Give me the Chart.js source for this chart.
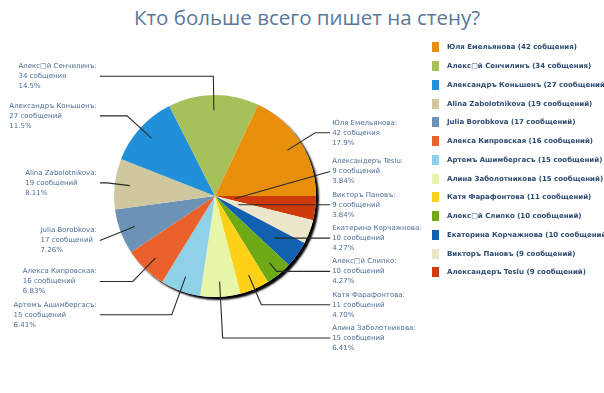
<!DOCTYPE html>
<html>
<head>
<meta charset="utf-8">
<script src="https://cdn.jsdelivr.net/npm/chart.js@4"></script>
<style>
body { margin:0; background:#fff; width:604px; height:393px; overflow:hidden; position:relative; }
#title { position:absolute; left:0; width:614px; top:3px; text-align:center; font:20.5px "Open Sans", sans-serif; color:#5b7799; }
#chart { position:absolute; left:0; top:0; }
#legend { position:absolute; left:432px; top:38px; white-space:nowrap; }
#legend div { height:18.75px; font:bold 7px "DejaVu Sans", sans-serif; color:#2d4b72; display:flex; align-items:center; }
#legend span { display:inline-block; width:7px; height:10px; margin-right:8px; }
</style>
</head>
<body>
<div id="title">Кто больше всего пишет на стену?</div>
<canvas id="chart" width="604" height="393"></canvas>
<div id="legend"></div>
<script>
'use strict'

// данные
const names = [
  'Юля Емельянова',
  'Алекс□й Сенчилинъ',
  'Александръ Коньшенъ',
  'Alina Zabolotnikova',
  'Julia Borobkova',
  'Алекса Кипровская',
  'Артемъ Ашимбергасъ',
  'Алина Заболотникова',
  'Катя Фарафонтова',
  'Алекс□й Слипко',
  'Екатерина Корчажнова',
  'Викторъ Пановъ',
  'Александеръ Teslu',
];
const messages = [42, 34, 27, 19, 17, 16, 15, 15, 11, 10, 10, 9, 9];
const units = [
  'собщения', 'собщения', 'сообщений', 'сообщений', 'сообщений', 'сообщений', 'сообщений',
  'сообщений', 'сообщений', 'сообщений', 'сообщений', 'сообщений', 'сообщений',
];
const colors = [
  '#e8900c', '#a7c15a', '#2290d8', '#cfc89f', '#6c92b6', '#ea612c', '#8fd2e7',
  '#e7f6a9', '#fdd116', '#6daa16', '#1261b1', '#ece6cb', '#cf3a0a',
];

// легенда
const legend = document.getElementById('legend');
names.forEach((n, i) => {
  const row = document.createElement('div');
  row.innerHTML = '<span style="background:' + colors[i] + '"></span>' + n + ' (' + messages[i] + ' ' + units[i] + ')';
  legend.appendChild(row);
});

// пирог идёт против часовой стрелки, поэтому порядок обратный
const order = names.map((_, i) => names.length - 1 - i);
const total = messages.reduce((a, b) => a + b, 0);

function pct(v) {
  const d = Math.max(0, 2 - Math.floor(Math.log10(v)));
  const p = Math.pow(10, d);
  return (Math.floor(v * p + 1e-9) / p).toFixed(d) + '%';
}

function spread(list, gap, minY, maxY) {
  list.sort((a, b) => a.want - b.want);
  const groups = list.map(it => ({ items: [it], y: it.want }));
  let moved = true;
  while (moved) {
    moved = false;
    groups.forEach(g => {
      const half = (g.items.length - 1) * gap / 2;
      g.y = Math.min(Math.max(g.y, minY + half), maxY - half);
    });
    for (let i = 0; i < groups.length - 1; i++) {
      const a = groups[i], b = groups[i + 1];
      const aEnd = a.y + (a.items.length - 1) * gap / 2;
      const bStart = b.y - (b.items.length - 1) * gap / 2;
      if (bStart - aEnd < gap) {
        const items = a.items.concat(b.items);
        const y = items.reduce((s, it) => s + it.want, 0) / items.length;
        groups.splice(i, 2, { items, y });
        moved = true;
        break;
      }
    }
  }
  groups.forEach(g => g.items.forEach((it, j) => {
    it.y = g.y - (g.items.length - 1) * gap / 2 + j * gap;
  }));
}

const pieLabels = {
  id: 'pieLabels',
  beforeDatasetsDraw(chart) {
    const arc = chart.getDatasetMeta(0).data[0];
    const ctx = chart.ctx;
    ctx.save();
    ctx.shadowColor = 'rgba(0,0,0,1)';
    ctx.shadowBlur = 2;
    ctx.shadowOffsetX = 3;
    ctx.shadowOffsetY = 3;
    ctx.fillStyle = '#fff';
    ctx.beginPath();
    ctx.arc(arc.x, arc.y, arc.outerRadius, 0, Math.PI * 2);
    ctx.fill();
    ctx.restore();
  },
  afterDatasetsDraw(chart) {
    const meta = chart.getDatasetMeta(0);
    const ctx = chart.ctx;
    const cx = meta.data[0].x, cy = meta.data[0].y, R = meta.data[0].outerRadius;
    const left = [], right = [];
    meta.data.forEach((arc, k) => {
      const i = order[k];
      const a = (arc.startAngle + arc.endAngle) / 2;
      const it = { i, a, cos: Math.cos(a), sin: Math.sin(a), want: cy + 1.2 * R * Math.sin(a) + 1.5 };
      (it.cos >= 0 ? right : left).push(it);
    });
    spread(left, 33.3, 40, chart.height - 55);
    spread(right, 33.3, 40, chart.height - 55);

    ctx.save();
    ctx.font = '7px "DejaVu Sans", sans-serif';
    ctx.textBaseline = 'middle';
    ctx.strokeStyle = '#2a2a2a';
    ctx.lineWidth = 1.1;
    left.concat(right).forEach(it => {
      const side = it.cos >= 0 ? 1 : -1;
      const ax = cx + side * 1.14 * R;
      const ray = r => [cx + r * it.cos, cy + r * it.sin];
      const rY = Math.abs(it.sin) > 1e-6 ? (it.y - cy) / it.sin : -1;
      let pts;
      if (rY >= 0.85 * R) {
        const p = ray(0.85 * R), e = ray(rY);
        if ((ax - e[0]) * side > 0) pts = [p, e, [ax, it.y]];
        else pts = [p, [ax, it.y]];
      } else if (rY >= 0.15 * R) {
        pts = [ray(rY), [ax, it.y]];
      } else {
        pts = [ray(0.2 * R), [ax, it.y]];
      }
      ctx.beginPath();
      pts.forEach((p, j) => j ? ctx.lineTo(p[0], p[1]) : ctx.moveTo(p[0], p[1]));
      ctx.stroke();

      const lines = [names[it.i] + ':', messages[it.i] + ' ' + units[it.i], pct(messages[it.i] / total * 100)];
      const w = Math.max(...lines.map(l => ctx.measureText(l).width));
      const tx = side > 0 ? ax + 2 : ax - 3 - w;
      ctx.fillStyle = '#4d6d95';
      lines.forEach((l, j) => ctx.fillText(l, tx, it.y + (j - 1) * 10));
    });
    ctx.restore();
  },
};

new Chart(document.getElementById('chart'), {
  type: 'pie',
  data: {
    labels: order.map(i => names[i]),
    datasets: [{
      data: order.map(i => messages[i]),
      backgroundColor: order.map(i => colors[i]),
      borderWidth: 0,
    }],
  },
  options: {
    responsive: false,
    animation: false,
    rotation: 90,
    layout: { padding: { left: 114, right: 288, top: 95, bottom: 96 } },
    plugins: {
      legend: { display: false },
      tooltip: { enabled: false },
    },
  },
  plugins: [pieLabels],
});
</script>
</body>
</html>
